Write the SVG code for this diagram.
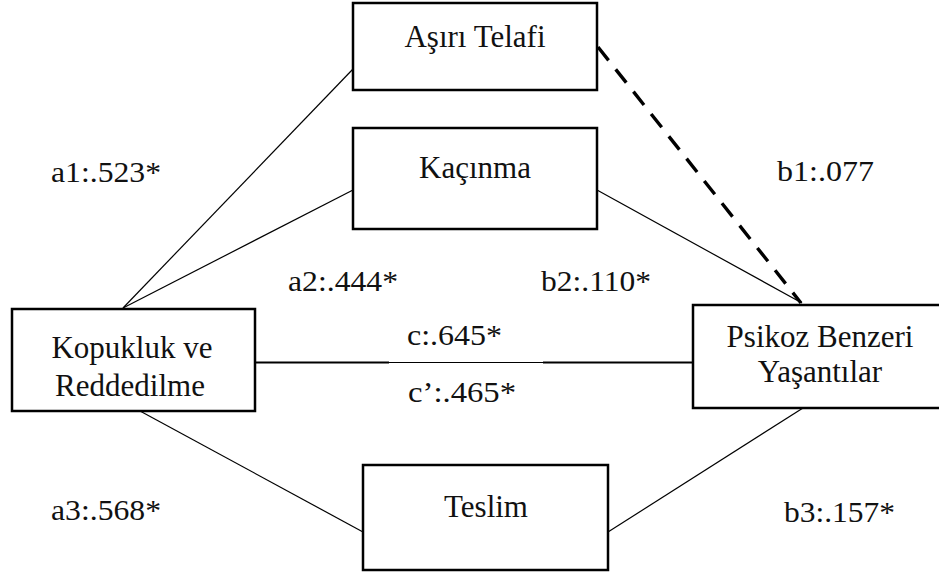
<svg xmlns="http://www.w3.org/2000/svg" width="939" height="578" viewBox="0 0 939 578">
<style>
.box{fill:#fff;stroke:#000;stroke-width:2.5}
.t{font-family:"Liberation Serif","Times New Roman",serif;font-size:31px;fill:#111;text-anchor:middle}
.lbl{font-family:"Liberation Serif","Times New Roman",serif;font-size:30px;fill:#111}
.c{stroke:#000;stroke-width:1.2;fill:none}
.thick{stroke:#000;stroke-width:2.2;fill:none}
.dash{stroke:#000;stroke-width:3.4;stroke-dasharray:17 11.5;fill:none}
</style>
<rect width="939" height="578" fill="#fff"/>
<g id="connectors">
<line class="c" x1="123" y1="308" x2="353" y2="69"/>
<line class="c" x1="123" y1="308" x2="353" y2="190"/>
<line class="c" x1="597" y1="190" x2="802" y2="303"/>
<line class="dash" x1="598" y1="47" x2="801" y2="303"/>
<line class="thick" x1="255" y1="362.5" x2="389" y2="362.5"/>
<line class="c" x1="389" y1="362.5" x2="543" y2="362.5"/>
<line class="thick" x1="543" y1="362.5" x2="693" y2="362.5"/>
<line class="c" x1="140" y1="411" x2="363" y2="532"/>
<line class="c" x1="608" y1="532" x2="803" y2="408"/>
</g>
<g id="asiri-telafi">
<rect class="box" x="353" y="3" width="244" height="87"/>
<text class="t" x="475" y="47">Aşırı Telafi</text>
</g>
<g id="kacinma">
<rect class="box" x="353" y="128" width="244" height="101"/>
<text class="t" x="475" y="178">Kaçınma</text>
</g>
<g id="kopukluk">
<rect class="box" x="12" y="309" width="243" height="102"/>
<text class="t" x="132" y="358">Kopukluk ve</text>
<text class="t" x="130" y="396">Reddedilme</text>
</g>
<g id="psikoz">
<rect class="box" x="693" y="305" width="254" height="103"/>
<text class="t" x="820" y="347">Psikoz Benzeri</text>
<text class="t" x="820" y="382">Yaşantılar</text>
</g>
<g id="teslim">
<rect class="box" x="363" y="465" width="245" height="105"/>
<text class="t" x="486" y="517">Teslim</text>
</g>
<g id="labels">
<text class="lbl" x="51" y="182" textLength="110" lengthAdjust="spacingAndGlyphs">a1:.523*</text>
<text class="lbl" x="777" y="181" textLength="97" lengthAdjust="spacingAndGlyphs">b1:.077</text>
<text class="lbl" x="288" y="291" textLength="110" lengthAdjust="spacingAndGlyphs">a2:.444*</text>
<text class="lbl" x="541" y="291" textLength="110" lengthAdjust="spacingAndGlyphs">b2:.110*</text>
<text class="lbl" x="407" y="345" textLength="95" lengthAdjust="spacingAndGlyphs">c:.645*</text>
<text class="lbl" x="408" y="402" textLength="108" lengthAdjust="spacingAndGlyphs">c’:.465*</text>
<text class="lbl" x="51" y="520" textLength="110" lengthAdjust="spacingAndGlyphs">a3:.568*</text>
<text class="lbl" x="784" y="522" textLength="111" lengthAdjust="spacingAndGlyphs">b3:.157*</text>
</g>
</svg>
